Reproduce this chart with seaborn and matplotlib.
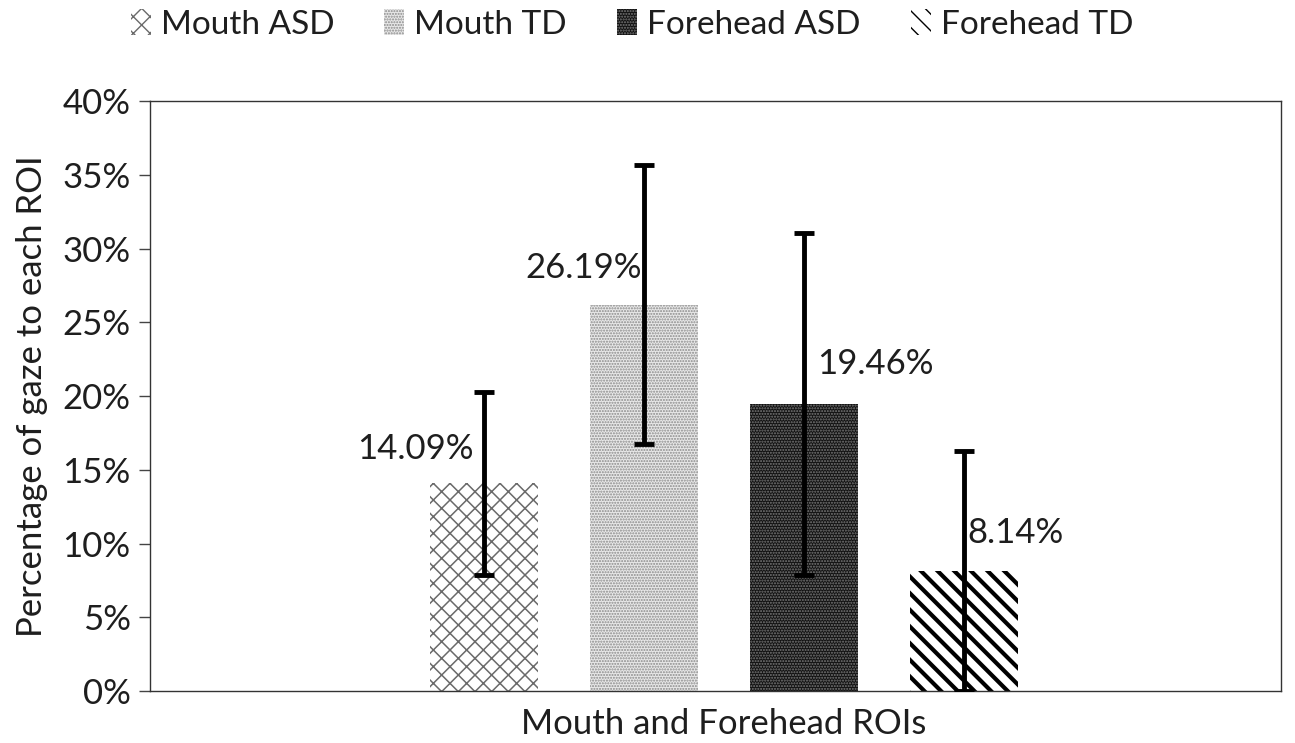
import matplotlib
matplotlib.use("Agg")
import matplotlib.pyplot as plt
from matplotlib.patches import Patch
import seaborn as sns
import pandas as pd

# Gaze share per region of interest (percent) with error-bar half widths
groups = ["Mouth ASD", "Mouth TD", "Forehead ASD", "Forehead TD"]
category = ["Mouth and Forehead ROIs"]
means = [14.09, 26.19, 19.46, 8.14]
errors = [6.2, 9.45, 11.6, 8.14]
value_labels = ["14.09%", "26.19%", "19.46%", "8.14%"]
y_ticks = [0, 5, 10, 15, 20, 25, 30, 35, 40]

sns.set_theme(style="white")
plt.rcParams["font.family"] = ["Lato", "DejaVu Sans"]
plt.rcParams["hatch.linewidth"] = 1.0

FS = 25
TXT = "#1e1e1e"

df = pd.DataFrame({"roi": category * len(groups), "group": groups, "pct": means})

fig = plt.figure(figsize=(12.95, 7.43), dpi=100)
ax = fig.add_axes([0.1158, 0.07, 0.8732, 0.794])

sns.barplot(data=df, x="roi", y="pct", hue="group", hue_order=groups,
            width=0.8, gap=0.33, errorbar=None, legend=False, ax=ax)

styles = {
    "Mouth ASD":    dict(face="white",   hatch="xx",     hcolor="#6a6a6a", hlw=1.1),
    "Mouth TD":     dict(face="#e8e8e8", hatch="......", hcolor="#8a8a8a", hlw=1.0),
    "Forehead ASD": dict(face="#121212", hatch="......", hcolor="#7a7a7a", hlw=1.0),
    "Forehead TD":  dict(face="white",   hatch="\\\\",   hcolor="black",   hlw=3.0),
}

bars = [p for p in ax.patches][:len(groups)]
centers = []
for bar, g in zip(bars, groups):
    st = styles[g]
    bar.set_facecolor(st["face"])
    bar.set_edgecolor(st["hcolor"])
    bar.set_linewidth(0)
    bar.set_hatch(st["hatch"])
    if hasattr(bar, "set_hatch_linewidth"):
        bar.set_hatch_linewidth(st["hlw"])
    centers.append(bar.get_x() + bar.get_width() / 2)

ax.errorbar(centers, means, yerr=errors, fmt="none", ecolor="black",
            elinewidth=3.5, capsize=7, capthick=3.5, zorder=5)

offsets = [(-69, 34), (-60, 37), (71, 40), (52, 38)]
for cx, m, lab, off in zip(centers, means, value_labels, offsets):
    ax.annotate(lab, (cx, m), xytext=off, textcoords="offset pixels",
                ha="center", va="center", fontsize=FS, color=TXT)

ax.set_ylim(0, 40)
ax.set_yticks(y_ticks)
ax.set_yticklabels([f"{t}%" for t in y_ticks])
ax.set_xlim(-0.7175, 0.696)
ax.set_xlabel("")
ax.set_ylabel("Percentage of gaze to each ROI", fontsize=FS, color=TXT, labelpad=10)
ax.tick_params(axis="y", left=True, length=8, width=1, color="#444444",
               labelsize=FS, labelcolor=TXT, pad=6)
ax.tick_params(axis="x", bottom=False, labelsize=FS, labelcolor=TXT, pad=6)

for sp in ax.spines.values():
    sp.set_visible(True)
    sp.set_color("#333333")
    sp.set_linewidth(1.0)

handles = []
for g in groups:
    st = styles[g]
    h = Patch(facecolor=st["face"], edgecolor=st["hcolor"], hatch=st["hatch"], linewidth=0)
    handles.append(h)
leg = fig.legend(handles, groups, loc="upper center", bbox_to_anchor=(0.488, 1.028),
                 ncol=4, frameon=False, fontsize=24, handlelength=0.6,
                 handleheight=0.8, handletextpad=0.3, columnspacing=1.5)
for t in leg.get_texts():
    t.set_color(TXT)

fig.savefig("out.png", dpi=100)
